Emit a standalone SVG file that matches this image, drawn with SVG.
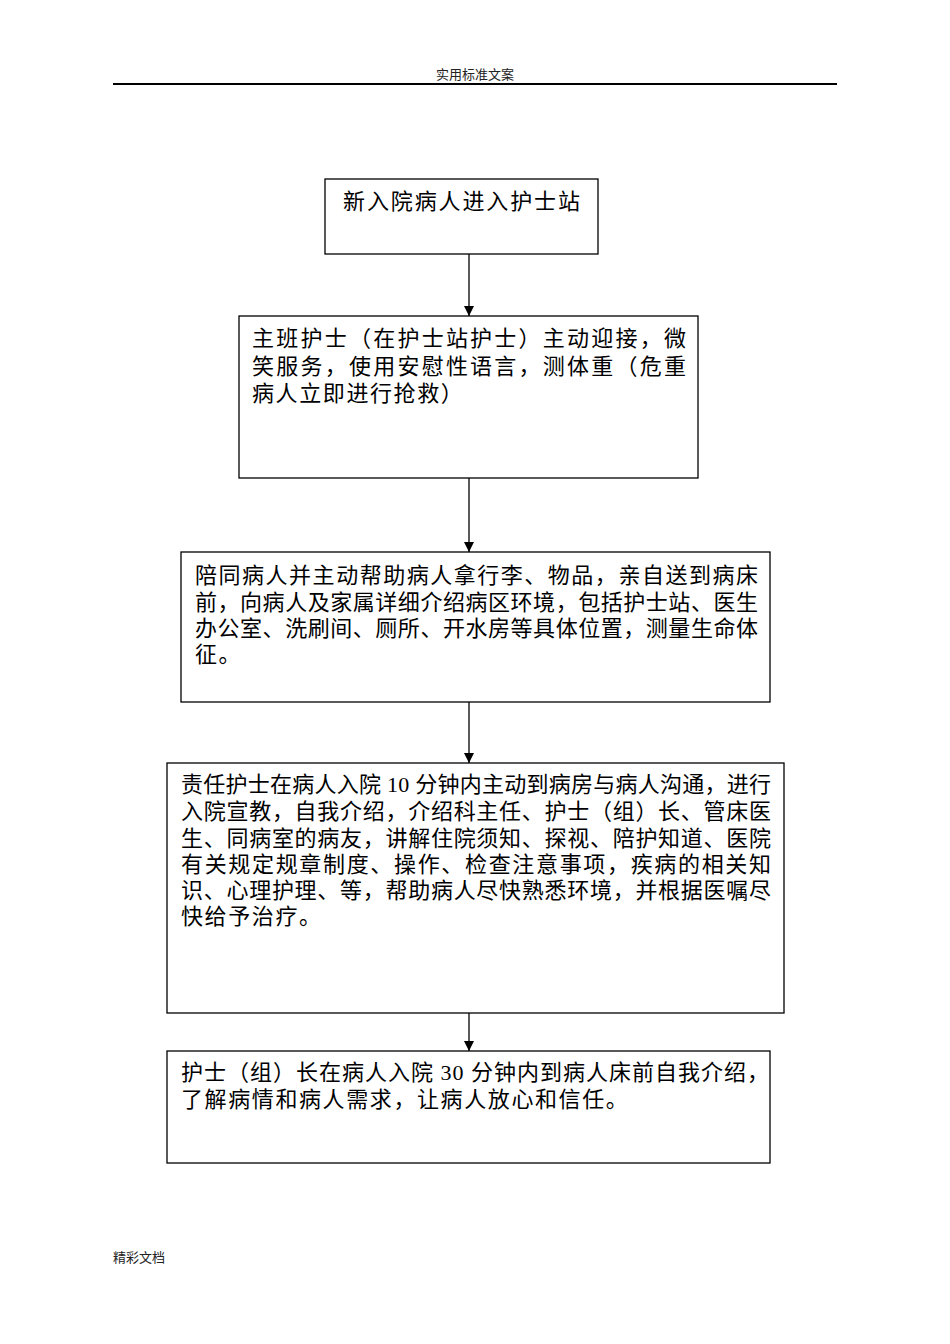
<svg xmlns="http://www.w3.org/2000/svg" width="950" height="1344" viewBox="0 0 950 1344">
<style>
.box{fill:#fff;stroke:#000;stroke-width:1.3}
.t{font-family:"Liberation Serif","Noto Sans CJK SC",serif;font-size:22px;fill:#000}
.ls{letter-spacing:1.6px}
.small{font-family:"Liberation Serif","Noto Sans CJK SC",serif;font-size:13px;fill:#222}
.con{stroke:#000;stroke-width:1.3;fill:none}
</style>
<defs>
<marker id="arr" viewBox="0 0 10 10" refX="10" refY="5" markerWidth="10" markerHeight="10" markerUnits="userSpaceOnUse" orient="auto">
<path d="M0,0 L10,5 L0,10 Z" fill="#000"/>
</marker>
</defs>
<rect width="950" height="1344" fill="#fff"/>
<g id="header">
<text class="small" x="475" y="79" text-anchor="middle">实用标准文案</text>
<line x1="113" y1="84" x2="837" y2="84" stroke="#000" stroke-width="2"/>
</g>
<g id="footer">
<text class="small" x="113" y="1262" font-size="14">精彩文档</text>
</g>
<g id="connectors">
<line class="con" x1="469" y1="254" x2="469" y2="316" marker-end="url(#arr)"/>
<line class="con" x1="469" y1="478" x2="469" y2="552" marker-end="url(#arr)"/>
<line class="con" x1="469" y1="702" x2="469" y2="763" marker-end="url(#arr)"/>
<line class="con" x1="469" y1="1013" x2="469" y2="1051" marker-end="url(#arr)"/>
</g>
<g id="node1">
<rect class="box" x="325" y="179" width="273" height="75"/>
<text class="t" x="343" y="209" textLength="237" lengthAdjust="spacing">新入院病人进入护士站</text>
</g>
<g id="node2">
<rect class="box" x="239" y="316" width="459" height="162"/>
<text class="t" x="252" y="346" textLength="434" lengthAdjust="spacing">主班护士（在护士站护士）主动迎接，微</text>
<text class="t" x="252" y="374" textLength="434" lengthAdjust="spacing">笑服务，使用安慰性语言，测体重（危重</text>
<text class="t ls" x="252" y="401">病人立即进行抢救）</text>
</g>
<g id="node3">
<rect class="box" x="181" y="552" width="589" height="150"/>
<text class="t" x="195" y="583" textLength="563" lengthAdjust="spacing">陪同病人并主动帮助病人拿行李、物品，亲自送到病床</text>
<text class="t" x="195" y="610" textLength="563" lengthAdjust="spacing">前，向病人及家属详细介绍病区环境，包括护士站、医生</text>
<text class="t" x="195" y="636" textLength="563" lengthAdjust="spacing">办公室、洗刷间、厕所、开水房等具体位置，测量生命体</text>
<text class="t ls" x="195" y="662">征。</text>
</g>
<g id="node4">
<rect class="box" x="167" y="763" width="617" height="250"/>
<text class="t" x="181" y="792" textLength="590" lengthAdjust="spacing">责任护士在病人入院 10 分钟内主动到病房与病人沟通，进行</text>
<text class="t" x="181" y="819" textLength="590" lengthAdjust="spacing">入院宣教，自我介绍，介绍科主任、护士（组）长、管床医</text>
<text class="t" x="181" y="846" textLength="590" lengthAdjust="spacing">生、同病室的病友，讲解住院须知、探视、陪护知道、医院</text>
<text class="t" x="181" y="872" textLength="590" lengthAdjust="spacing">有关规定规章制度、操作、检查注意事项，疾病的相关知</text>
<text class="t" x="181" y="898" textLength="590" lengthAdjust="spacing">识、心理护理、等，帮助病人尽快熟悉环境，并根据医嘱尽</text>
<text class="t ls" x="181" y="924">快给予治疗。</text>
</g>
<g id="node5">
<rect class="box" x="167" y="1051" width="603" height="112"/>
<text class="t" x="181" y="1080" textLength="588" lengthAdjust="spacing">护士（组）长在病人入院 30 分钟内到病人床前自我介绍，</text>
<text class="t ls" x="181" y="1107">了解病情和病人需求，让病人放心和信任。</text>
</g>
</svg>
